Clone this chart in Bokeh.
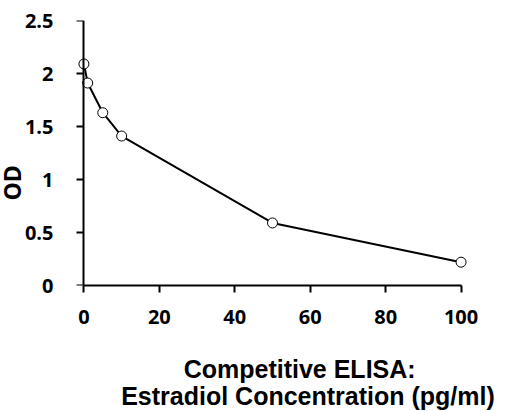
from bokeh.plotting import figure
from bokeh.models import Range1d, FixedTicker, Title, LinearAxis
from bokeh.embed import file_html
from bokeh.resources import INLINE

concentration = [0, 1, 5, 10, 50, 100]
od = [2.09, 1.91, 1.63, 1.41, 0.59, 0.22]
x_ticks = [0, 20, 40, 60, 80, 100]
y_ticks = [0, 0.5, 1, 1.5, 2, 2.5]
y_tick_labels = {0: "0", 0.5: "0.5", 1: "1", 1.5: "1.5", 2: "2", 2.5: "2.5"}
x_title_1 = "Competitive ELISA:"
x_title_2 = "Estradiol Concentration (pg/ml)"
y_title = "OD"

# horizontal centres of the two x-title lines, in x-axis units (layout only)
title1_center = 57.2
title2_center = 61.9

p = figure(output_backend="svg", toolbar_location=None,
           x_range=Range1d(-2.5, 102.5), y_range=Range1d(0, 2.5),
           frame_width=396, frame_height=265,
           min_border_left=0, min_border_right=29, min_border_top=20, min_border_bottom=0)
p.outline_line_color = None
p.xgrid.grid_line_color = None
p.ygrid.grid_line_color = None
p.background_fill_color = "white"
p.border_fill_color = "white"

tick_font = "Open Sans"
tick_size = "20px"

# x axis
xa = p.xaxis[0]
xa.ticker = FixedTicker(ticks=x_ticks)
xa.bounds = (0, 100)
xa.axis_line_width = 2
xa.major_tick_line_width = 2
xa.major_tick_in = 0
xa.major_tick_out = 7
xa.minor_tick_line_color = None
xa.major_label_standoff = 17
xa.major_label_text_font = tick_font
xa.major_label_text_font_style = "bold"
xa.major_label_text_font_size = tick_size
xa.major_label_text_color = "black"

# y axis labels only, sitting at the frame edge
ya = p.yaxis[0]
ya.ticker = FixedTicker(ticks=y_ticks)
ya.major_label_overrides = {k: v for k, v in y_tick_labels.items()}
ya.axis_line_color = None
ya.major_tick_line_color = None
ya.minor_tick_line_color = None
ya.major_tick_in = 0
ya.major_tick_out = 0
ya.major_label_standoff = 21
ya.major_label_text_font = tick_font
ya.major_label_text_font_style = "bold"
ya.major_label_text_font_size = tick_size
ya.major_label_text_color = "black"

# y axis line and ticks drawn at x = 0
yline = LinearAxis(fixed_location=0, bounds=(0, 2.5), ticker=FixedTicker(ticks=y_ticks),
                   axis_line_width=2, major_tick_line_width=2, major_tick_in=0,
                   major_tick_out=7, minor_tick_line_color=None,
                   major_label_standoff=0,
                   major_label_overrides={k: "" for k in y_tick_labels})
p.add_layout(yline, "left")

p.line(concentration, od, line_color="black", line_width=2)
p.scatter(concentration, od, size=10, marker="circle", fill_color="white",
          line_color="black", line_width=1)


def title_line(center, text, standoff):
    return LinearAxis(ticker=FixedTicker(ticks=[center]),
                      major_label_overrides={center: text},
                      axis_line_color=None, major_tick_line_color=None,
                      minor_tick_line_color=None, major_tick_in=0, major_tick_out=0,
                      major_label_standoff=standoff,
                      major_label_text_font="Liberation Sans",
                      major_label_text_font_style="bold",
                      major_label_text_font_size="25px",
                      major_label_text_color="black")


p.add_layout(title_line(title1_center, x_title_1, 28), "below")
p.add_layout(title_line(title2_center, x_title_2, -4), "below")

ty = Title(text=y_title, align="left", offset=85, standoff=-13,
           text_font="Open Sans", text_font_style="bold",
           text_font_size="23px", text_color="black")
p.add_layout(ty, "left")

open("out.html", "w").write(file_html(p, INLINE))
